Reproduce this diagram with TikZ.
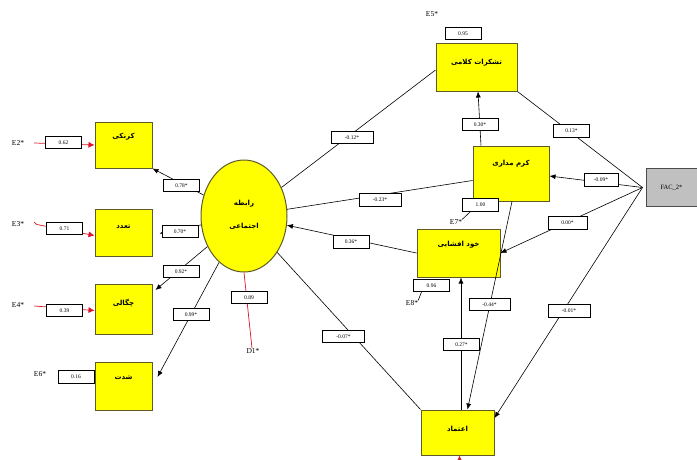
\documentclass[tikz,border=0pt]{standalone}
\usepackage{fontspec}
\setmainfont{Liberation Serif}
\newfontfamily\pfont[Script=Arabic]{DejaVu Sans}
\TeXXeTstate=1
\usetikzlibrary{arrows.meta,shapes.geometric}
\definecolor{boxfill}{RGB}{255,255,0}
\definecolor{boxedge}{RGB}{95,90,40}
\definecolor{facfill}{RGB}{192,192,192}
\definecolor{errred}{RGB}{220,20,40}
\tikzset{
  obs/.style={draw=boxedge, fill=boxfill, line width=1pt, inner sep=0pt},
  intxt/.style={font=\pfont\bfseries\fontsize{7}{8}\selectfont, inner sep=0pt},
  lab/.style={draw=black, fill=white, line width=0.6pt, inner sep=0pt,
    minimum height=12.5pt, minimum width=36pt, font=\fontsize{5.5}{6}\selectfont},
  etxt/.style={font=\fontsize{7.5}{8}\selectfont, inner sep=0pt},
  link/.style={line width=0.6pt},
  arr/.style={link, -{Latex[length=6pt,width=5pt]}},
  err/.style={errred, line width=0.7pt},
  errarr/.style={err, -{Latex[length=6pt,width=6pt]}},
}
\begin{document}
\begin{tikzpicture}[x=1pt,y=-1pt]
\useasboundingbox (0,0) rectangle (697,459);

% latent variable
\node[ellipse, draw=boxedge, fill=boxfill, line width=1pt, minimum width=86pt,
  minimum height=112pt, inner sep=0pt] (e) at (244,216) {};
\node[intxt] (et1) at (244,204) {\beginR رابطه\endR};
\node[intxt] (et2) at (244,226) {\beginR اجتماعی\endR};

% indicators on the left
\node[obs, minimum width=57pt, minimum height=46pt,
  label={[intxt,yshift=8pt]center:\beginR کرنکی\endR}] (b1) at (123.5,145) {};
\node[obs, minimum width=57pt, minimum height=47pt,
  label={[intxt,yshift=6pt]center:\beginR تعدد\endR}] (b2) at (123.5,232.5) {};
\node[obs, minimum width=57pt, minimum height=50pt,
  label={[intxt,yshift=6pt]center:\beginR چگالی\endR}] (b3) at (123.5,309) {};
\node[obs, minimum width=57pt, minimum height=48pt,
  label={[intxt,yshift=8pt]center:\beginR شدت\endR}] (b4) at (123.5,386) {};

% variables on the right
\node[obs, minimum width=81pt, minimum height=48pt,
  label={[intxt,yshift=4pt]center:\beginR تشکرات کلامی\endR}] (t) at (476.5,67) {};
\node[obs, minimum width=76pt, minimum height=55pt,
  label={[intxt,yshift=10pt]center:\beginR کرم مداری\endR}] (k) at (511,173.5) {};
\node[obs, minimum width=83pt, minimum height=48pt,
  label={[intxt,yshift=8pt]center:\beginR خود افشایی\endR}] (x) at (458.5,253) {};
\node[obs, minimum width=73pt, minimum height=45pt,
  label={[intxt,yshift=4pt]center:\beginR اعتماد\endR}] (a) at (457.5,432.5) {};
\node[draw=black!70, fill=facfill, line width=1pt, minimum width=51pt,
  minimum height=38pt, inner sep=0pt, font=\fontsize{6.5}{8}\selectfont] (f) at (671.5,187.5) {FAC\_2*};
\coordinate (fp) at ([xshift=-3pt]f.west);

% error terms
\node[etxt] (E2) at (18,143) {E2*};
\node[etxt] (E3) at (18,224) {E3*};
\node[etxt] (E4) at (18,305) {E4*};
\node[etxt] (E6) at (40,374) {E6*};
\node[etxt] (E5) at (432,14) {E5*};
\node[etxt] (E7) at (456,222) {E7*};
\node[etxt] (E8) at (412,303) {E8*};
\node[etxt] (D1) at (253,351) {D1*};

\draw[errarr] ([xshift=10pt]E2.east) -- (b1.west);
\draw[errarr] ([xshift=10pt,yshift=2pt]E3.east) to[out=-60,in=180] ([xshift=15pt,yshift=-1pt]E3.east) -- ([yshift=-3pt]b2.west);
\draw[errarr] ([xshift=10pt,yshift=-1pt]E4.east) -- ([yshift=-1.5pt]b3.west);
\draw[err] (e.south) -- ([xshift=-1pt]D1.north);
\coordinate (ea) at (459.5,465);
\draw[errarr] (ea) -- ([xshift=2pt]a.south);

% paths from the latent variable to its indicators
\draw[arr] (e) -- (b1.south east);
\draw[arr] (e) -- ([xshift=7pt,yshift=-1pt]b2.east);
\draw[arr] (e) -- ([xshift=3pt,yshift=19pt]b3.east);
\draw[arr] (e) -- ([xshift=5pt,yshift=9pt]b4.east);

% structural paths
\draw[link] (e) -- ([yshift=-3pt]t.west);
\draw[link] ([yshift=-7pt]k.west) -- (e);
\draw[arr] (x.west) -- (e);
\draw[link] (e) -- (a.north west);
\draw[arr] ([xshift=-30pt]k.north) -- ([xshift=1.5pt]t.south);
\draw[arr] ([xshift=1pt]k.south) -- ([xshift=10pt]a.north);
\draw[arr] ([xshift=3.5pt]a.north) -- ([xshift=2.5pt]x.south);
\draw[link] (fp) -- (t.south east);
\draw[arr] (fp) -- ([yshift=-2.5pt]k.east);
\draw[arr] (fp) -- (x.east);
\draw[arr] (fp) -- ([yshift=14.5pt]a.east);

% coefficient labels
\node[lab] (n2) at (63.5,142.5) {0.62};
\node[lab] (n3) at (64.5,228.5) {0.71};
\node[lab] (n4) at (64.5,310.5) {0.39};
\node[lab] (n6) at (76,377) {0.16};
\node[lab] (n5) at (463,33.5) {0.95};
\node[lab] (n7) at (480.5,205) {1.00};
\node[lab] (n8) at (431.5,285.5) {0.96};
\node[lab] (n1) at (249,297.5) {0.89};

% short ties from residual values to their error names
\draw[link] ([xshift=-10pt]n8.south) -- (E8.north east);
\draw[link] ([xshift=-10pt]n7.south) -- (E7.north east);

\node[lab] (l1) at (181.5,185.5) {0.78*};
\node[lab] (l2) at (180,231.5) {0.70*};
\node[lab] (l3) at (181,271.5) {0.92*};
\node[lab] (l4) at (191,314.5) {0.99*};
\node[lab, minimum width=42pt] (l5) at (352,137.5) {-0.12*};
\node[lab, minimum width=42pt] (l6) at (380,200) {-0.23*};
\node[lab] (l7) at (351,242) {0.36*};
\node[lab, minimum width=42pt] (l8) at (343.5,336.5) {-0.07*};
\node[lab] (l9) at (480,124.5) {0.30*};
\node[lab, minimum width=41pt] (l10) at (489.5,304.5) {-0.44*};
\node[lab] (l11) at (461.5,344.5) {0.27*};
\node[lab] (l12) at (571.5,131) {0.13*};
\node[lab, minimum width=34pt] (l13) at (601,180) {-0.09*};
\node[lab, minimum width=39pt] (l14) at (567.5,223) {0.00*};
\node[lab, minimum width=42pt] (l15) at (569,311) {-0.01*};
\end{tikzpicture}
\end{document}
